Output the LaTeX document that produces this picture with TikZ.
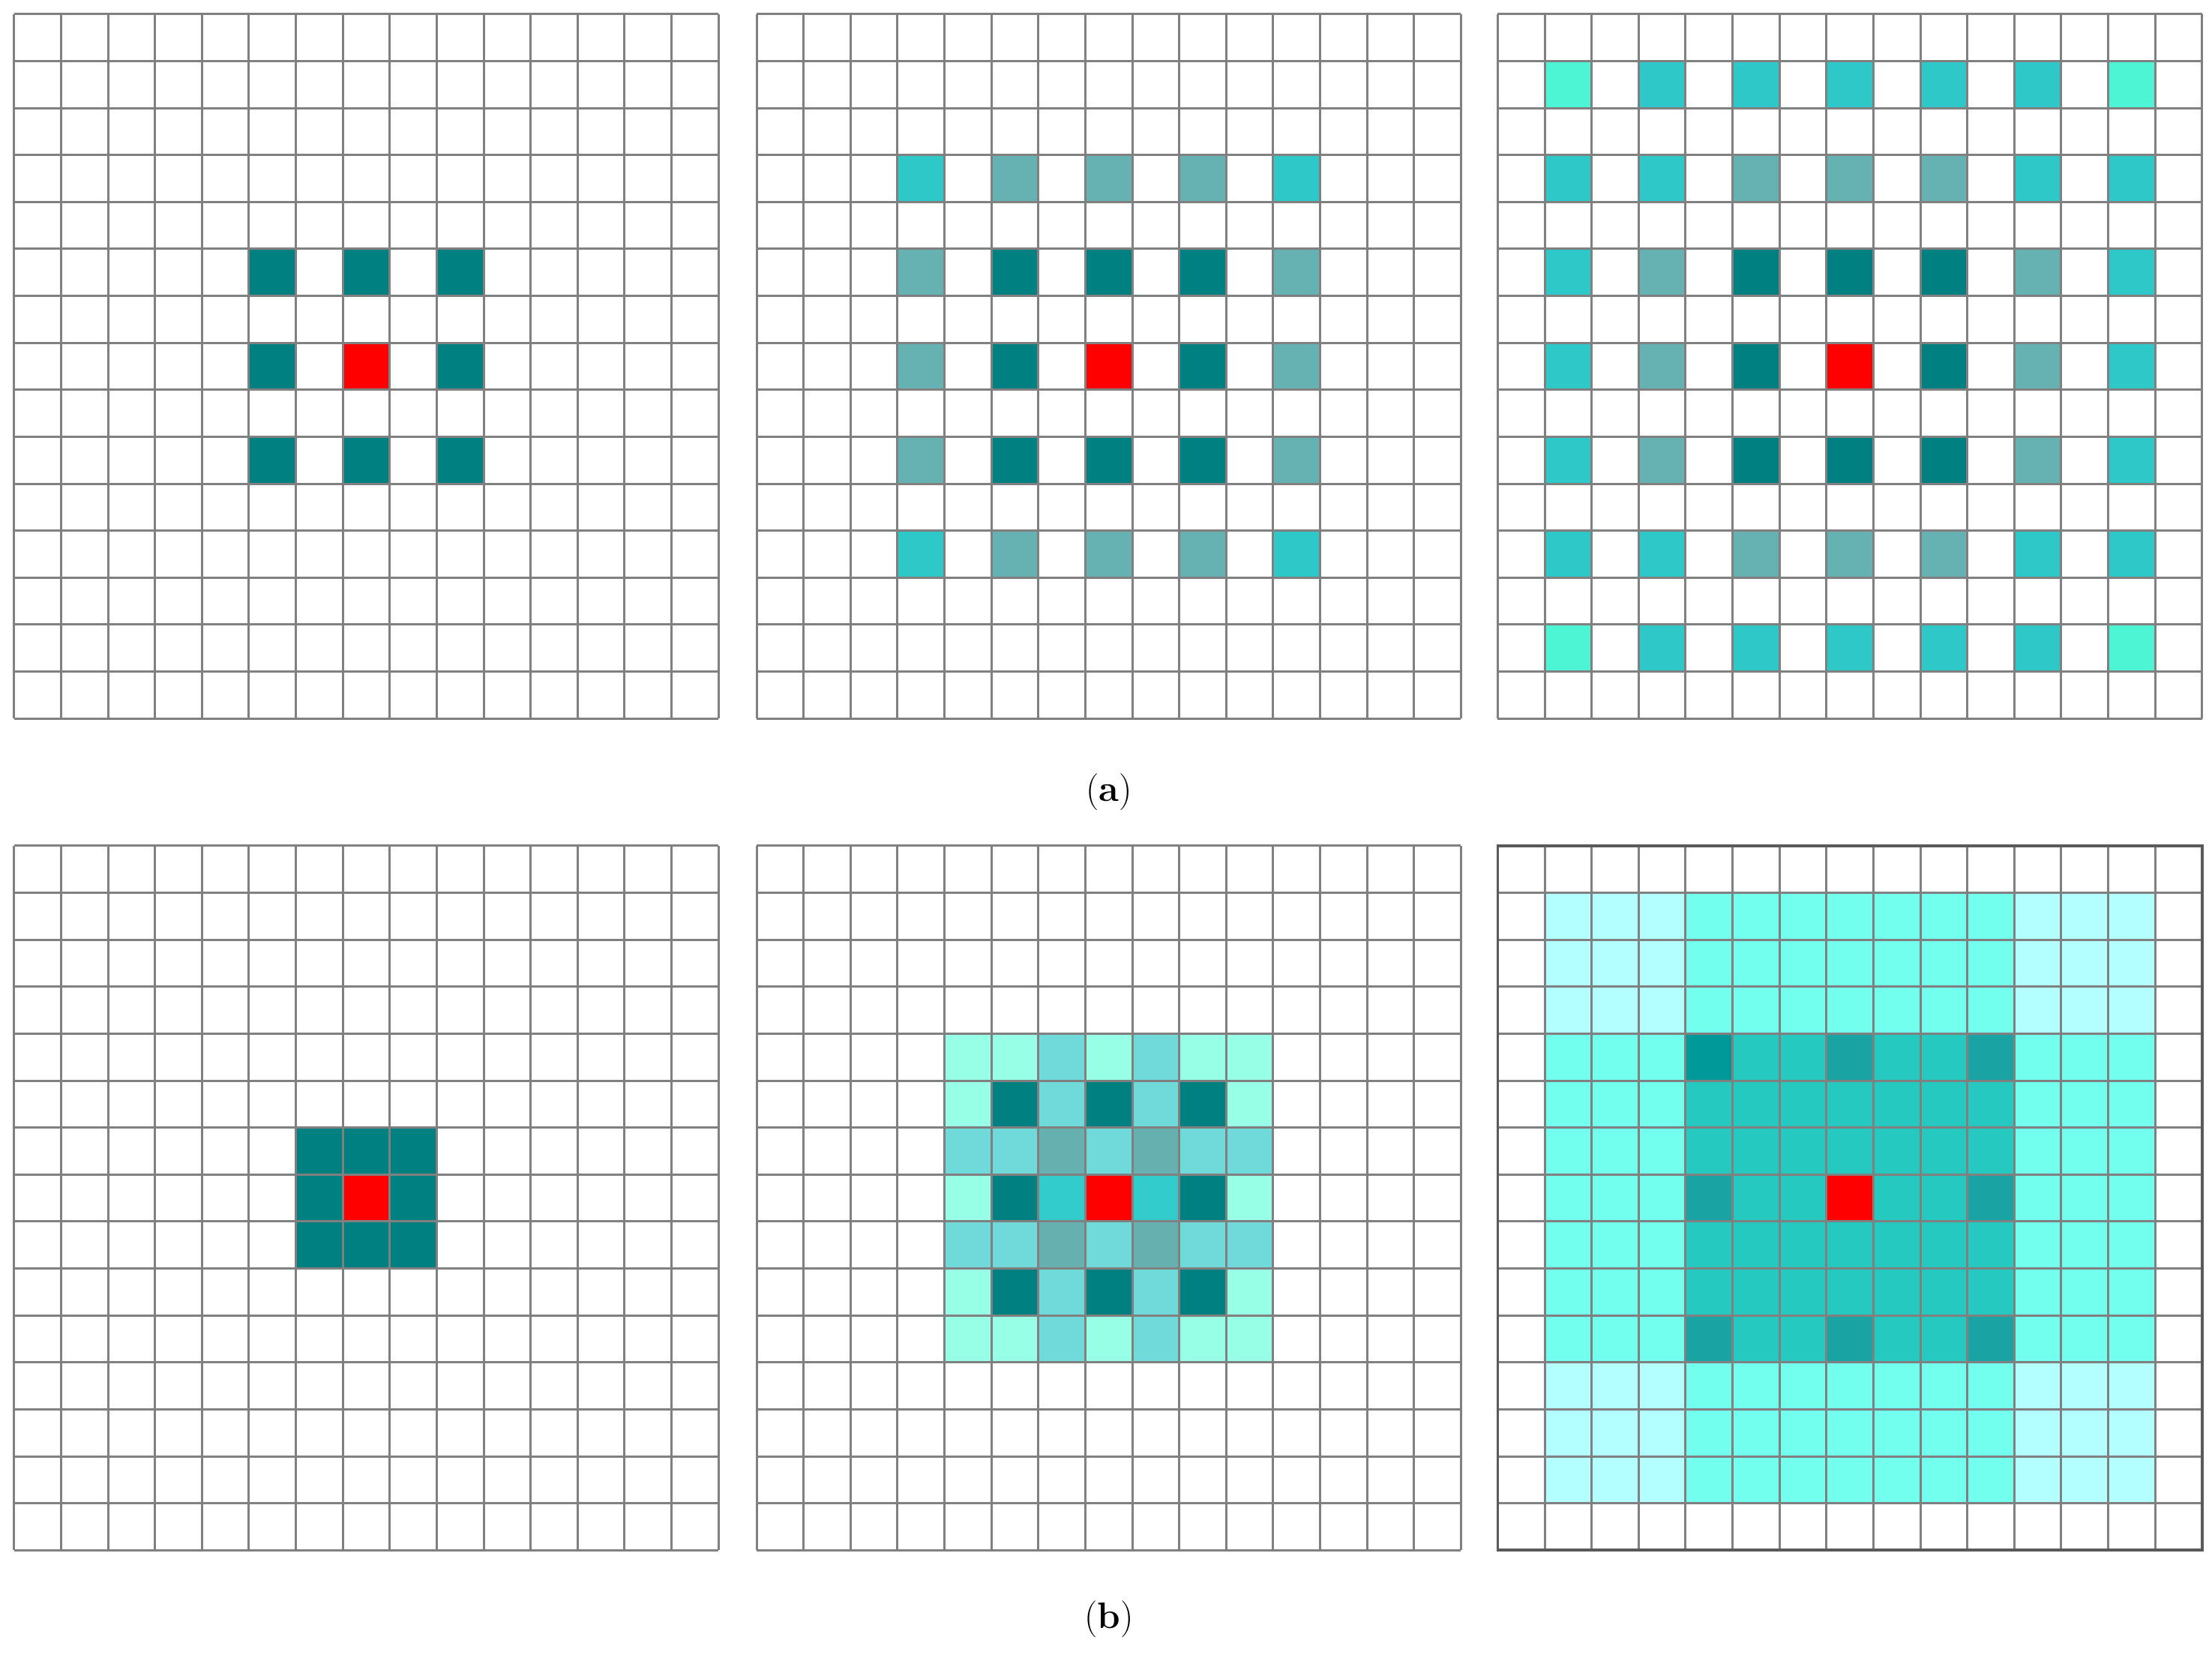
\documentclass[tikz,border=0pt]{standalone}
\begin{document}
\begin{tikzpicture}[x=1pt,y=-1pt]
\definecolor{Dk}{HTML}{008080}
\definecolor{Md}{HTML}{66B2B2}
\definecolor{Cy}{HTML}{2EC8C8}
\definecolor{Aq}{HTML}{4DF5D5}
\definecolor{Rd}{HTML}{FF0000}
\definecolor{Lt}{HTML}{96FFE6}
\definecolor{Mm}{HTML}{70D9D9}
\definecolor{Gg}{HTML}{66B0B0}
\definecolor{Cc}{HTML}{33CCCC}
\definecolor{Bs}{HTML}{26C9C0}
\definecolor{Bd}{HTML}{1AA3A3}
\definecolor{Bx}{HTML}{009999}
\definecolor{Cr}{HTML}{73FFEE}
\definecolor{Cn}{HTML}{B3FFFF}
\definecolor{Gl}{HTML}{808080}
\tikzset{gridline/.style={draw=Gl,line width=1.6pt},lab/.style={font=\fontsize{26}{30}\selectfont}}
\useasboundingbox (0,0) rectangle (1564,1170);
\fill[white] (0,0) rectangle (1564,1170);
\def\cs{33.2}
% \cell{ox}{oy}{col}{row}{color}
\newcommand\mycell[5]{\fill[#5] ({#1+#3*\cs},{#2+#4*\cs}) rectangle ++(\cs,\cs);}
% panel a1
\foreach \c/\r in {5/5,7/5,9/5,5/7,9/7,5/9,7/9,9/9}{\mycell{10}{10}{\c}{\r}{Dk}}
\mycell{10}{10}{7}{7}{Rd}
% panel a2
\foreach \c in {3,5,7,9,11}{\foreach \r in {3,5,7,9,11}{\mycell{535}{10}{\c}{\r}{Md}}}
\foreach \c/\r in {3/3,11/3,3/11,11/11}{\mycell{535}{10}{\c}{\r}{Cy}}
\foreach \c in {5,7,9}{\foreach \r in {5,7,9}{\mycell{535}{10}{\c}{\r}{Dk}}}
\mycell{535}{10}{7}{7}{Rd}
% panel a3
\foreach \c in {1,3,...,13}{\foreach \r in {1,3,...,13}{\mycell{1059}{10}{\c}{\r}{Cy}}}
\foreach \c in {3,5,...,11}{\foreach \r in {3,5,...,11}{\mycell{1059}{10}{\c}{\r}{Md}}}
\foreach \c/\r in {3/3,11/3,3/11,11/11}{\mycell{1059}{10}{\c}{\r}{Cy}}
\foreach \c/\r in {1/1,13/1,1/13,13/13}{\mycell{1059}{10}{\c}{\r}{Aq}}
\foreach \c in {5,7,9}{\foreach \r in {5,7,9}{\mycell{1059}{10}{\c}{\r}{Dk}}}
\mycell{1059}{10}{7}{7}{Rd}
% panel b1
\foreach \c in {6,7,8}{\foreach \r in {6,7,8}{\mycell{10}{598}{\c}{\r}{Dk}}}
\mycell{10}{598}{7}{7}{Rd}
% panel b2
\foreach \c in {4,...,10}{\foreach \r in {4,...,10}{\mycell{535}{598}{\c}{\r}{Lt}}}
\foreach \c in {4,5,...,10}{\foreach \r in {6,8}{\mycell{535}{598}{\c}{\r}{Mm}}}
\foreach \c in {6,8}{\foreach \r in {4,5,7,9,10}{\mycell{535}{598}{\c}{\r}{Mm}}}
\foreach \c in {6,8}{\foreach \r in {6,8}{\mycell{535}{598}{\c}{\r}{Gg}}}
\foreach \c in {5,7,9}{\foreach \r in {5,7,9}{\mycell{535}{598}{\c}{\r}{Dk}}}
\mycell{535}{598}{6}{7}{Cc}\mycell{535}{598}{8}{7}{Cc}
\mycell{535}{598}{7}{7}{Rd}
% panel b3
\foreach \c in {1,...,13}{\foreach \r in {1,...,13}{\mycell{1059}{598}{\c}{\r}{Cn}}}
\foreach \c in {4,...,10}{\foreach \r in {1,...,13}{\mycell{1059}{598}{\c}{\r}{Cr}\mycell{1059}{598}{\r}{\c}{Cr}}}
\foreach \c in {4,...,10}{\foreach \r in {4,...,10}{\mycell{1059}{598}{\c}{\r}{Bs}}}
\foreach \c/\r in {7/4,10/4,4/7,10/7,4/10,7/10,10/10}{\mycell{1059}{598}{\c}{\r}{Bd}}
\mycell{1059}{598}{4}{4}{Bx}
\mycell{1059}{598}{7}{7}{Rd}
% grids
\foreach \ox/\oy in {10/10,535/10,1059/10,10/598,535/598,1059/598}{
  \foreach \i in {0,...,15}{
    \draw[gridline] ({\ox+\i*\cs},\oy) -- ++(0,{15*\cs});
    \draw[gridline] (\ox,{\oy+\i*\cs}) -- ++({15*\cs},0);
  }
}
\draw[draw=Gl!70!black,line width=2pt] (1059,598) rectangle ++({15*\cs},{15*\cs});
\node[lab] (la) at (784,560) {(\textbf{a})};
\node[lab] (lb) at (784,1145) {(\textbf{b})};
\end{tikzpicture}
\end{document}
